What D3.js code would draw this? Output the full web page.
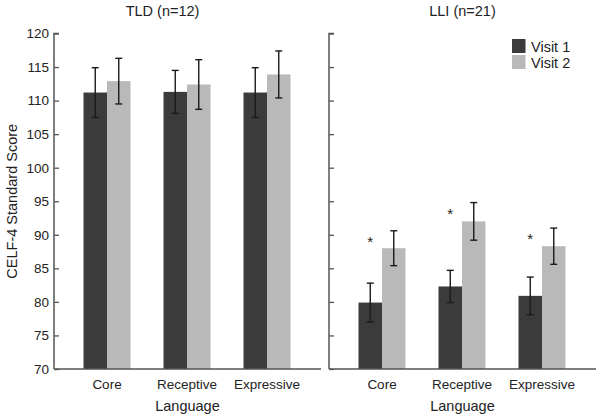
<!DOCTYPE html>
<html><head><meta charset="utf-8">
<script src="https://cdn.jsdelivr.net/npm/d3@7"></script>
<style>body{margin:0;background:#fff;} svg{display:block;} text{font-family:"Liberation Sans",Arial,sans-serif;fill:#222;}</style>
</head><body>
<svg id="c" width="601" height="418"></svg>
<script>
const categories = ["Core", "Receptive", "Expressive"];
const series = ["Visit 1", "Visit 2"];
const groups = ["TLD (n=12)", "LLI (n=21)"];
// means
const tldVisit1 = [111.2, 111.3, 111.2];
const tldVisit2 = [112.9, 112.4, 113.9];
const lliVisit1 = [79.9, 82.3, 80.9];
const lliVisit2 = [88.0, 92.0, 88.3];
// error bar half-widths
const tldErr1 = [3.7, 3.2, 3.7];
const tldErr2 = [3.4, 3.7, 3.5];
const lliErr1 = [2.9, 2.4, 2.8];
const lliErr2 = [2.6, 2.8, 2.7];
// significance markers (LLI)
const lliSignificant = [true, true, true];
const yTicks = [70, 75, 80, 85, 90, 95, 100, 105, 110, 115, 120];
const colors = ["#3b3b3b", "#b9b9b9"];

const svg = d3.select("#c");
const y = d3.scaleLinear().domain([70, 120]).range([369, 33.5]);

const panels = [
  {title: groups[0], left: 54, right: 321, titleX: 162.5, v: [tldVisit1, tldVisit2], e: [tldErr1, tldErr2], labels: true, sig: null},
  {title: groups[1], left: 329, right: 596, titleX: 462.5, v: [lliVisit1, lliVisit2], e: [lliErr1, lliErr2], labels: false, sig: lliSignificant}
];

panels.forEach(p => {
  const g = svg.append("g");
  const x0 = d3.scaleBand().domain(categories).range([p.left + 13, p.left + 253]);
  const x1 = d3.scaleBand().domain(series).range([x0.bandwidth()/2 - 23.5, x0.bandwidth()/2 + 23.5]);

  // bars
  categories.forEach((c, i) => {
    series.forEach((s, j) => {
      const val = p.v[j][i];
      g.append("rect")
        .attr("x", x0(c) + x1(s))
        .attr("width", x1.bandwidth())
        .attr("y", y(val))
        .attr("height", y(70) - y(val))
        .attr("fill", colors[j]);
    });
  });
  // error bars
  categories.forEach((c, i) => {
    series.forEach((s, j) => {
      const val = p.v[j][i], e = p.e[j][i];
      const cx = x0(c) + x1(s) + x1.bandwidth()/2;
      const eg = g.append("g").attr("stroke", "#1a1a1a").attr("stroke-width", 1.4);
      eg.append("line").attr("x1", cx).attr("x2", cx).attr("y1", y(val - e)).attr("y2", y(val + e));
      eg.append("line").attr("x1", cx - 3.5).attr("x2", cx + 3.5).attr("y1", y(val - e)).attr("y2", y(val - e));
      eg.append("line").attr("x1", cx - 3.5).attr("x2", cx + 3.5).attr("y1", y(val + e)).attr("y2", y(val + e));
    });
  });
  // significance stars
  if (p.sig) {
    categories.forEach((c, i) => {
      if (!p.sig[i]) return;
      const cx = x0(c) + x1(series[0]) + x1.bandwidth()/2;
      g.append("text").attr("x", cx).attr("y", y(p.v[1][i] + p.e[1][i]) + 16)
        .attr("text-anchor", "middle").attr("font-size", 15).text("*");
    });
  }

  // y axis
  const ya = d3.axisRight(y).tickValues(yTicks).tickSize(5).tickFormat(p.labels ? d3.format("d") : () => "");
  const yg = g.append("g").attr("transform", `translate(${p.left},0)`).call(ya);
  yg.select(".domain").attr("stroke", "#555").attr("stroke-width", 1.5).attr("d", `M5,${y(120)}H0V${y(70)}`);
  yg.selectAll(".tick line").attr("stroke", "#555").attr("stroke-width", 1.3);
  yg.selectAll(".tick text").attr("x", -5).attr("text-anchor", "end").attr("font-size", 13.5)
    .attr("font-family", "Liberation Sans, Arial, sans-serif").attr("fill", "#222");

  // x axis
  const xa = d3.axisBottom(x0).tickSize(0).tickPadding(10);
  const xg = g.append("g").attr("transform", `translate(0,${y(70)})`).call(xa);
  xg.select(".domain").attr("stroke", "#555").attr("stroke-width", 1.5).attr("d", `M${p.left},0H${p.right}`);
  xg.selectAll(".tick text").attr("font-size", 13.5).attr("font-family", "Liberation Sans, Arial, sans-serif").attr("fill", "#222");

  // x label
  g.append("text").attr("x", (p.left + p.right) / 2).attr("y", 410.5).attr("text-anchor", "middle")
    .attr("font-size", 14.5).text("Language");
  // title
  g.append("text").attr("x", p.titleX).attr("y", 16).attr("text-anchor", "middle")
    .attr("font-size", 14.5).text(p.title);
});

// y label
svg.append("text").attr("transform", `translate(17,${(y(70)+y(120))/2}) rotate(-90)`)
  .attr("text-anchor", "middle").attr("font-size", 14.5).text("CELF-4 Standard Score");

// legend
const lg = svg.append("g").attr("transform", "translate(512,39)");
series.forEach((s, i) => {
  lg.append("rect").attr("x", 0).attr("y", i * 16).attr("width", 13.5).attr("height", 14).attr("fill", colors[i]);
  lg.append("text").attr("x", 19).attr("y", i * 16 + 12.5).attr("font-size", 14.5).text(s);
});
</script>
</body></html>
